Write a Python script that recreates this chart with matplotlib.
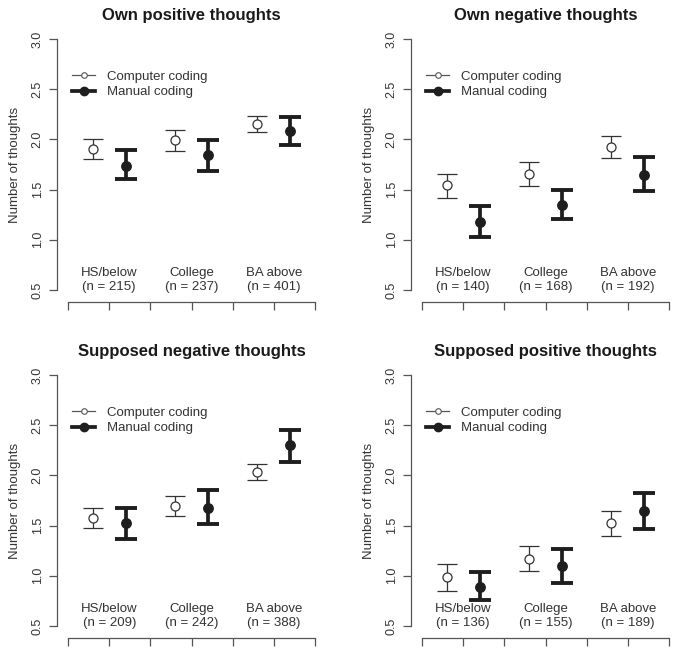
import numpy as np
import matplotlib
matplotlib.use("Agg")
import matplotlib.pyplot as plt
from matplotlib.lines import Line2D
import matplotlib.transforms as mtransforms

plt.rcParams['font.family'] = ['Liberation Sans', 'DejaVu Sans']

# Data
titles = ["Own positive thoughts", "Own negative thoughts",
          "Supposed negative thoughts", "Supposed positive thoughts"]
groups = ["HS/below", "College", "BA above"]
n_sizes = [[215, 237, 401], [140, 168, 192], [209, 242, 388], [136, 155, 189]]

comp_mean = [[1.90, 1.99, 2.15], [1.55, 1.66, 1.92], [1.58, 1.70, 2.03], [0.99, 1.17, 1.53]]
comp_lo = [[1.80, 1.88, 2.07], [1.42, 1.54, 1.81], [1.48, 1.60, 1.95], [0.85, 1.05, 1.40]]
comp_hi = [[2.00, 2.09, 2.23], [1.66, 1.77, 2.03], [1.68, 1.79, 2.11], [1.12, 1.30, 1.65]]

man_mean = [[1.74, 1.84, 2.08], [1.18, 1.35, 1.65], [1.53, 1.68, 2.30], [0.89, 1.10, 1.65]]
man_lo = [[1.61, 1.69, 1.94], [1.03, 1.21, 1.49], [1.37, 1.52, 2.13], [0.76, 0.93, 1.47]]
man_hi = [[1.89, 1.99, 2.22], [1.34, 1.50, 1.82], [1.68, 1.85, 2.45], [1.04, 1.27, 1.82]]

yticks = [0.5, 1.0, 1.5, 2.0, 2.5, 3.0]

W, H = 680, 654
fig = plt.figure(figsize=(W / 100, H / 100), dpi=100)

# axes boxes in pixels: (left spine x, bottom spine y)
boxes = [(57, 302), (411, 302), (57, 638), (411, 638)]
ax_w, ax_h = 269, 273

axis_col = '#555555'
text_col = '#333333'
comp_col = '#333333'
man_col = '#1e1e1e'

for p in range(4):
    lx, by = boxes[p]
    ax = fig.add_axes([lx / W, (H - by) / H, ax_w / W, ax_h / H])

    g = np.arange(len(groups))
    cx = g * 2 + 0.6
    mx = g * 2 + 1.4

    cm = np.array(comp_mean[p])
    mm = np.array(man_mean[p])
    c_err = [cm - np.array(comp_lo[p]), np.array(comp_hi[p]) - cm]
    m_err = [mm - np.array(man_lo[p]), np.array(man_hi[p]) - mm]

    ax.errorbar(cx, cm, yerr=c_err, fmt='o', ms=6.5, mfc='white', mec=comp_col,
                mew=0.9, ecolor=comp_col, elinewidth=0.9, capsize=7.2, capthick=0.9)
    ax.errorbar(mx, mm, yerr=m_err, fmt='o', ms=6.8, mfc=man_col, mec=man_col,
                ecolor=man_col, elinewidth=2.7, capsize=8.2, capthick=2.8)

    for i, grp in enumerate(groups):
        ax.text(g[i] * 2 + 1, 0.6, f"{grp}\n(n = {n_sizes[p][i]})", ha='center',
                va='center', fontsize=9.5, color=text_col, linespacing=1.3)

    ax.set_xlim(-0.27, 6.27)
    ax.set_ylim(0.38, 3.1)
    ax.set_xticks(np.arange(7))
    ax.set_xticklabels([])
    ax.set_yticks(yticks)
    ax.set_yticklabels([f"{v:.1f}" for v in yticks], rotation=90, va='center')
    ax.tick_params(axis='both', direction='out', length=5.5, width=0.9,
                   color=axis_col, labelcolor=text_col, labelsize=9, pad=4)
    for s in ['top', 'right']:
        ax.spines[s].set_visible(False)
    ax.spines['left'].set_bounds(0.5, 3.0)
    ax.spines['bottom'].set_bounds(0, 6)
    for s in ['left', 'bottom']:
        ax.spines[s].set_color(axis_col)
        ax.spines[s].set_linewidth(0.9)
    ax.patch.set_alpha(0)

    trans = mtransforms.blended_transform_factory(ax.transAxes, ax.transData)
    ax.text(-0.155, 1.75, "Number of thoughts", rotation=90, ha='center', va='center',
            fontsize=9.5, color=text_col, transform=trans)
    ax.text(0.5, 1.051, titles[p], ha='center', va='center', fontsize=12,
            fontweight='bold', color='#1a1a1a', transform=ax.transAxes)

    handles = [
        Line2D([], [], color=axis_col, lw=0.9, marker='o', ms=4, mfc='white',
               mec=axis_col, mew=0.8),
        Line2D([], [], color=man_col, lw=2.7, marker='o', ms=6, mfc=man_col,
               mec=man_col),
    ]
    leg = ax.legend(handles, ["Computer coding", "Manual coding"], loc='upper left',
                    bbox_to_anchor=(0.056, 0.847), frameon=False, fontsize=9.5,
                    handlelength=1.75, handletextpad=0.9, labelspacing=0.22,
                    borderpad=0, borderaxespad=0)
    for t in leg.get_texts():
        t.set_color(text_col)

fig.savefig("out.png", dpi=100)
